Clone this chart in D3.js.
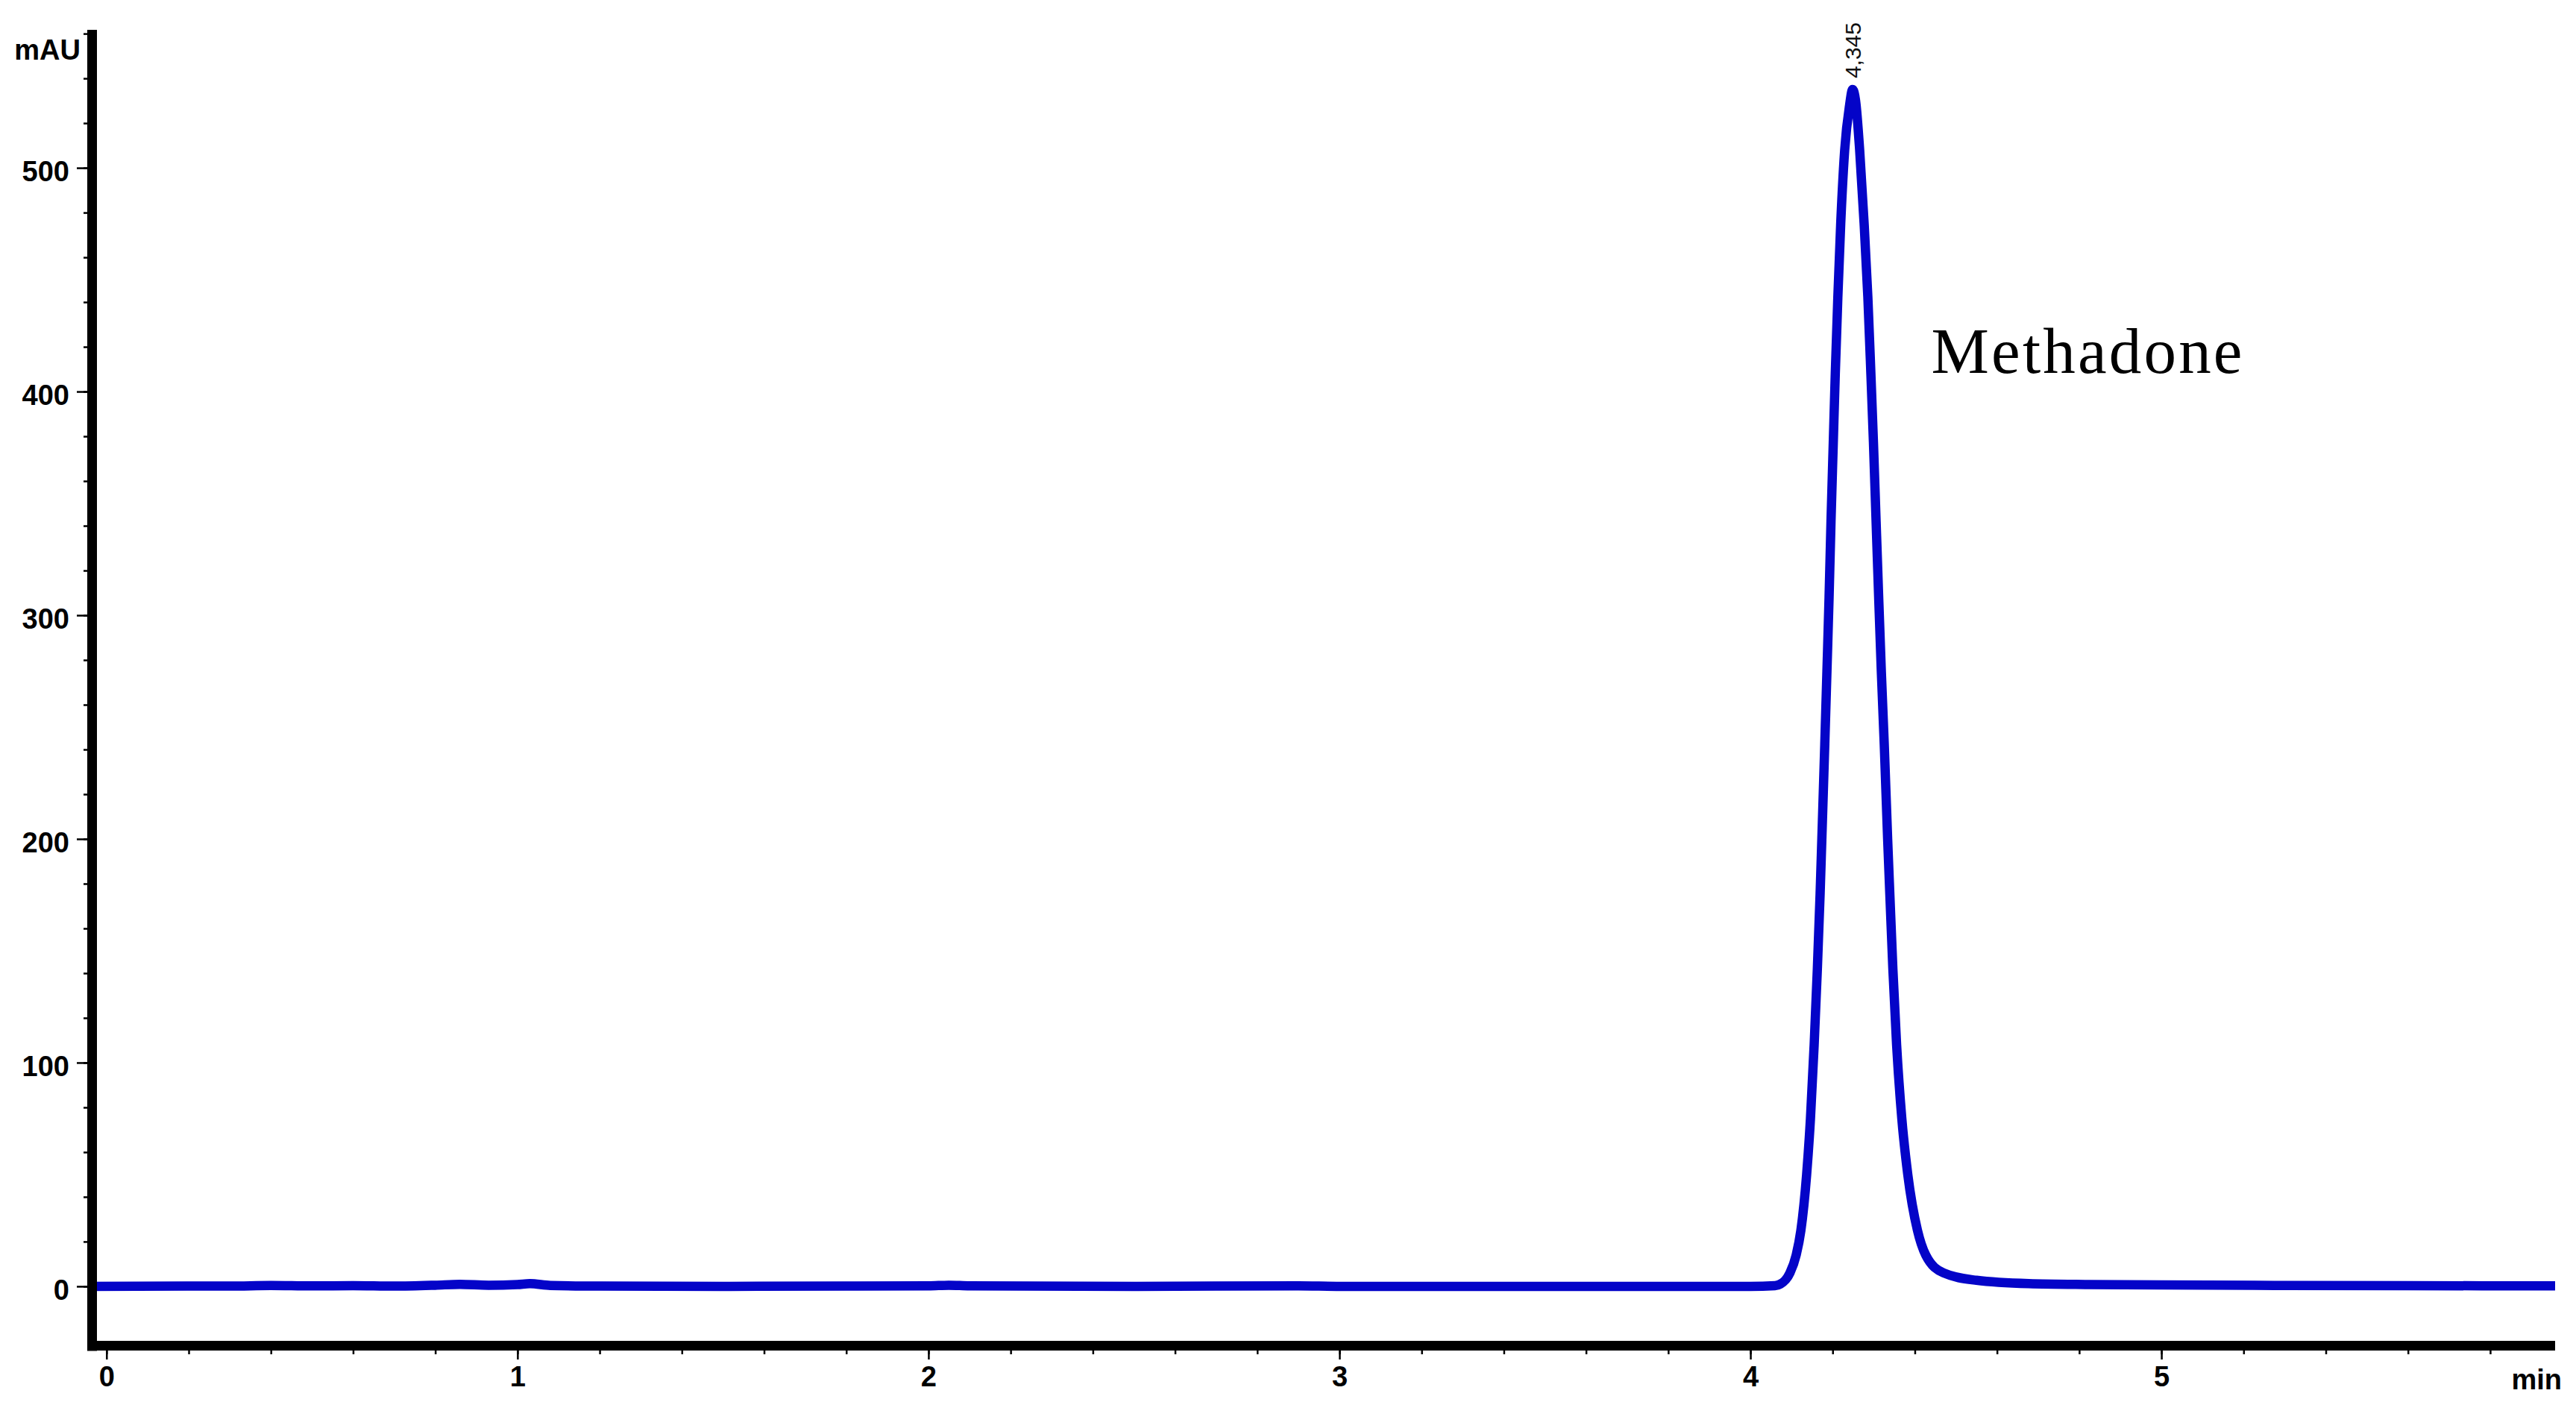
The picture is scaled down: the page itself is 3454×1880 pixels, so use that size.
<!DOCTYPE html>
<html>
<head>
<meta charset="utf-8">
<script src="https://cdn.jsdelivr.net/npm/d3@7"></script>
<style>
  html, body { margin: 0; padding: 0; background: #fff; }
  svg { display: block; }
</style>
</head>
<body>
<svg id="chart" width="3454" height="1880"></svg>
<script>
// ---------------- DATA ----------------
// Retention time (min) and absorbance (mAU)
const baseTimes  = [-0.045, 0.2, 0.3, 0.4, 0.5, 0.6, 0.7, 0.8, 0.86, 0.93, 1.0, 1.03, 1.08, 1.2, 1.5, 1.8, 2.0, 2.05, 2.1, 2.5, 2.9, 3.0, 3.5, 3.9, 4.0];
const baseValues = [0.0,    0.1, 0.1, 0.4, 0.2, 0.3, 0.1, 0.5, 0.9,  0.5,  0.8, 1.2,  0.4,  0.1, 0.0, 0.1, 0.2, 0.5,  0.2, 0.0, 0.2, 0.0, 0.0, 0.0, 0.0];

const peakTimes  = [4.0599, 4.0726, 4.0962, 4.1114, 4.1228, 4.1368, 4.1461, 4.1551, 4.1629, 4.1695, 4.1738, 4.1809, 4.1862, 4.1914, 4.1961, 4.2016, 4.2065, 4.2127, 4.2197, 4.2294, 4.2413,
                    4.2486,
                    4.2559, 4.2658, 4.2767, 4.2858, 4.2931, 4.2994, 4.3058, 4.3121, 4.3185, 4.3257, 4.3339, 4.3393, 4.3466, 4.3557, 4.3684, 4.3829, 4.4065, 4.4265, 4.4700, 4.5499, 4.677, 4.822];
const peakValues = [0.3,    1.0,    6.0,    14,     25,     50,     75,     108,    142,    175,    200,    242,    275,    308,    342,    377,    408,    442,    475,    508,    528,
                    535,
                    530,    508,    475,    442,    408,    377,    342,    308,    275,    242,    200,    175,    142,    108,    75,     50,     25,     14,     6.0,    2.7,    1.2,   0.8];

const tailTimes  = [5.0, 5.3, 5.6, 5.958];
const tailValues = [0.6, 0.4, 0.3, 0.2];

const yMajorTicks = [0, 100, 200, 300, 400, 500];
const yMinorTicks = d3.range(0, 561, 20);
const xMajorTicks = [0, 1, 2, 3, 4, 5];
const xMinorTicks = d3.range(0, 5.95, 0.2);

const yUnitLabel = "mAU";
const xUnitLabel = "min";
const peakLabel = "4,345";
const peakTime = 4.2486, peakValue = 535;
const compoundName = "Methadone";
const compoundPos = [4.44, 408.3];

// ---------------- SCALES ----------------
const svg = d3.select("#chart");
svg.append("rect").attr("width", 3454).attr("height", 1880).attr("fill", "#fff");

const x = d3.scaleLinear().domain([-0.045, 5.958]).range([118, 3426]);
const y = d3.scaleLinear().domain([-26.7, 561.7]).range([1805, 40]);

const times = baseTimes.concat(peakTimes, tailTimes);
const values = baseValues.concat(peakValues, tailValues);
const data = times.map((t, i) => ({ t, v: values[i] }));

const FONT = "'Liberation Sans', Arial, sans-serif";

// ---------------- TRACE ----------------
const line = d3.line().x(d => x(d.t)).y(d => y(d.v)).curve(d3.curveMonotoneX);
svg.append("path")
  .datum(data)
  .attr("d", line)
  .attr("fill", "none")
  .attr("stroke", "#0404c8")
  .attr("stroke-width", 12.5)
  .attr("stroke-linejoin", "round")
  .attr("stroke-linecap", "butt");

// ---------------- AXES ----------------
const x0 = x.range()[0], x1 = x.range()[1];
const yBottom = y.range()[0], yTop = y.range()[1];

// thick axis bars
svg.append("line")
  .attr("x1", x0 + 5.5).attr("x2", x0 + 5.5)
  .attr("y1", yTop).attr("y2", yBottom + 6.5)
  .attr("stroke", "#000").attr("stroke-width", 13);
svg.append("line")
  .attr("x1", x0 - 1).attr("x2", x1)
  .attr("y1", yBottom - 0.5).attr("y2", yBottom - 0.5)
  .attr("stroke", "#000").attr("stroke-width", 13);

// y axis ticks
const yAxisX = x0 - 1;
const yMinor = svg.append("g").attr("transform", `translate(${yAxisX},0)`)
  .call(d3.axisLeft(y).tickValues(yMinorTicks).tickSize(5).tickFormat(""));
const yMajor = svg.append("g").attr("transform", `translate(${yAxisX},0)`)
  .call(d3.axisLeft(y).tickValues(yMajorTicks).tickSize(14).tickPadding(10).tickFormat(d3.format("d")));

// x axis ticks
const xAxisY = yBottom + 6;
const xMinor = svg.append("g").attr("transform", `translate(0,${xAxisY})`)
  .call(d3.axisBottom(x).tickValues(xMinorTicks).tickSize(5).tickFormat(""));
const xMajor = svg.append("g").attr("transform", `translate(0,${xAxisY})`)
  .call(d3.axisBottom(x).tickValues(xMajorTicks).tickSize(12).tickPadding(9).tickFormat(d3.format("d")));

[yMinor, yMajor, xMinor, xMajor].forEach(g => {
  g.select(".domain").remove();
  g.selectAll(".tick line").attr("stroke", "#000").attr("stroke-width", 2.5);
  g.selectAll(".tick text")
    .attr("fill", "#000")
    .style("font-family", FONT)
    .style("font-size", "38px")
    .style("font-weight", "bold");
});
yMajor.selectAll(".tick text").attr("dy", "0.47em");

// unit labels
svg.append("text")
  .attr("x", yAxisX - 9).attr("y", yTop + 40)
  .attr("text-anchor", "end")
  .style("font-family", FONT).style("font-size", "38px").style("font-weight", "bold")
  .text(yUnitLabel);
svg.append("text")
  .attr("x", x1 + 9).attr("y", xAxisY + 52)
  .attr("text-anchor", "end")
  .style("font-family", FONT).style("font-size", "38px").style("font-weight", "bold")
  .text(xUnitLabel);

// peak retention-time label (rotated)
svg.append("text")
  .attr("transform", `translate(${x(peakTime) + 11},${y(peakValue) - 15}) rotate(-90)`)
  .attr("text-anchor", "start")
  .style("font-family", FONT).style("font-size", "30px")
  .attr("fill", "#111")
  .text(peakLabel);

// compound name
svg.append("text")
  .attr("x", x(compoundPos[0])).attr("y", y(compoundPos[1]))
  .attr("textLength", 417).attr("lengthAdjust", "spacing")
  .style("font-family", "'Liberation Serif', 'Times New Roman', serif")
  .style("font-size", "87px")
  .attr("fill", "#000")
  .text(compoundName);
</script>
</body>
</html>
